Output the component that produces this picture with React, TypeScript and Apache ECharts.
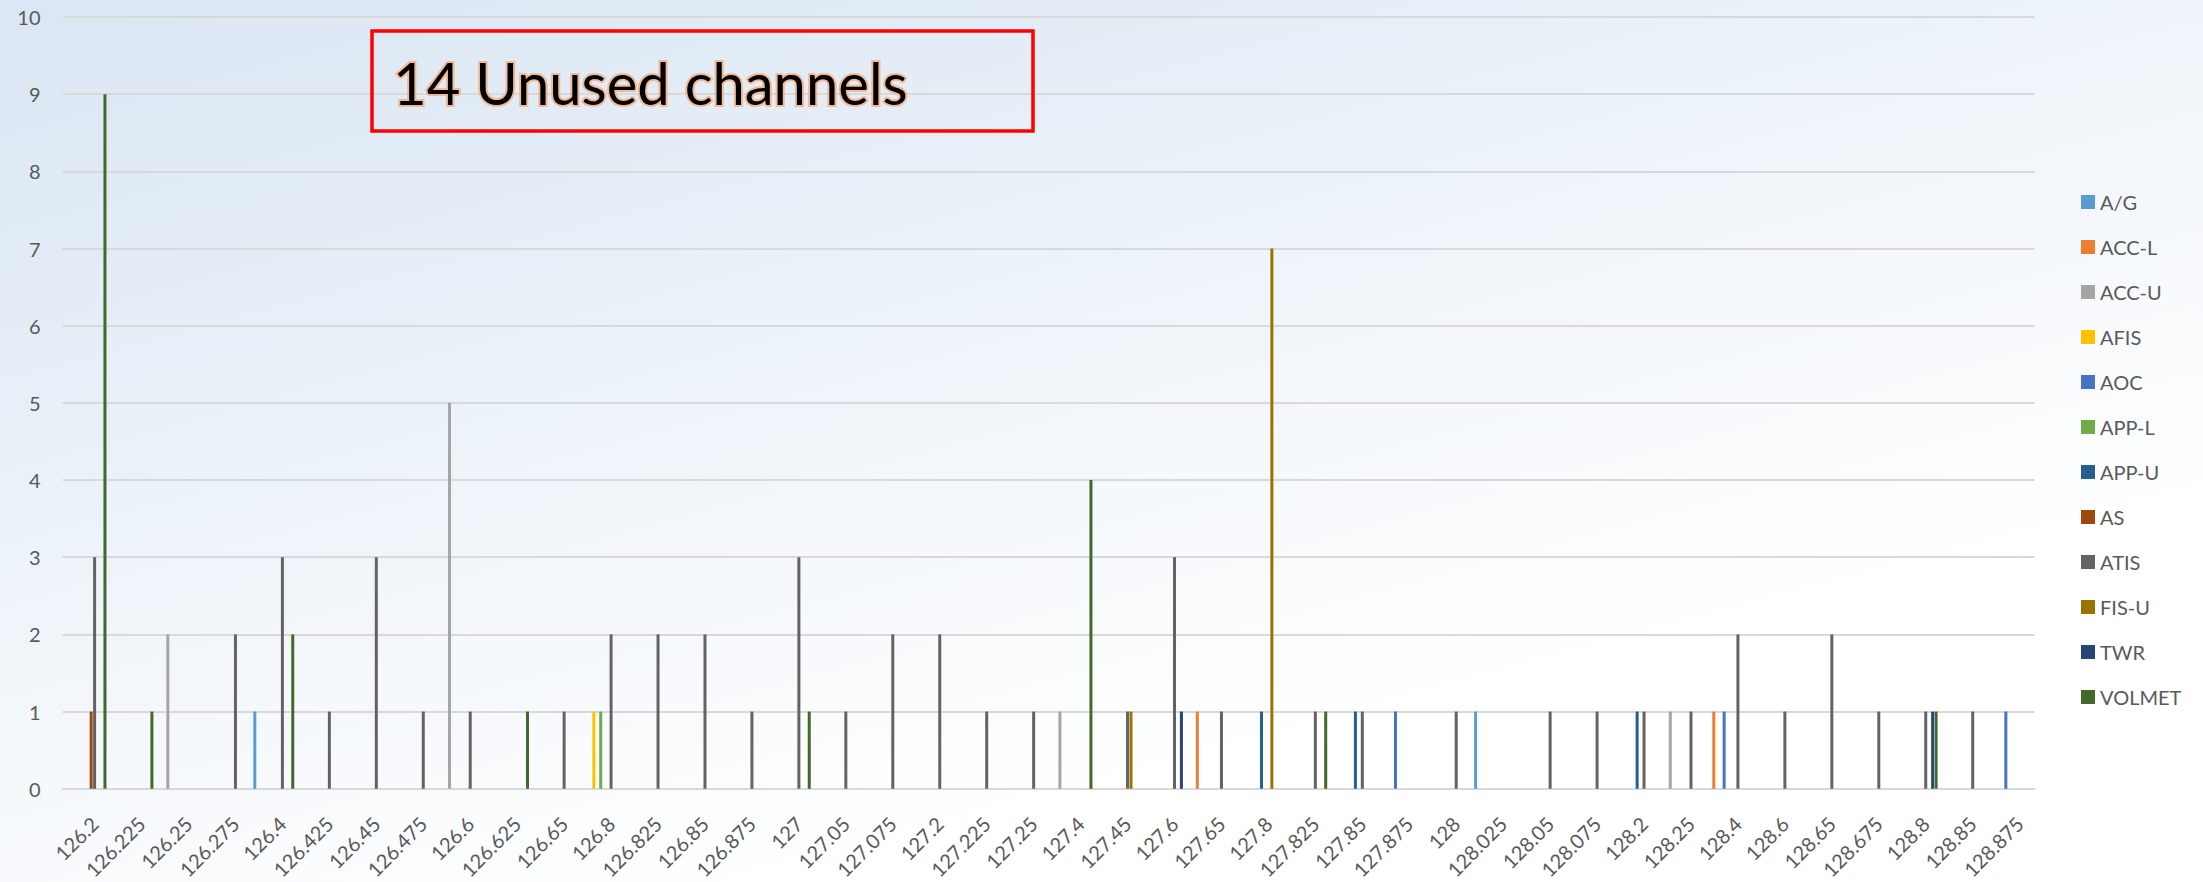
import React, { useEffect, useRef } from 'react';
import * as echarts from 'echarts';

const _ = null;

const categories = [
  '126.2', '126.225', '126.25', '126.275', '126.4', '126.425', '126.45', '126.475', '126.6', '126.625',
  '126.65', '126.8', '126.825', '126.85', '126.875', '127', '127.05', '127.075', '127.2', '127.225',
  '127.25', '127.4', '127.45', '127.6', '127.65', '127.8', '127.825', '127.85', '127.875', '128',
  '128.025', '128.05', '128.075', '128.2', '128.25', '128.4', '128.6', '128.65', '128.675', '128.8',
  '128.85', '128.875',
];

const seriesNames = ['A/G', 'ACC-L', 'ACC-U', 'AFIS', 'AOC', 'APP-L', 'APP-U', 'AS', 'ATIS', 'FIS-U', 'TWR', 'VOLMET'];
const seriesColors = ['#5B9BD5', '#ED7D31', '#A5A5A5', '#FFC000', '#4472C4', '#70AD47', '#255E91', '#9E480E', '#636363', '#997300', '#264478', '#43682B'];

const valAG = [
  _, _, _, _, 1, _, _, _, _, _,
  _, _, _, _, _, _, _, _, _, _,
  _, _, _, _, _, _, _, _, _, _,
  1, _, _, _, _, _, _, _, _, _,
  _, _,
];
const valACCL = [
  _, _, _, _, _, _, _, _, _, _,
  _, _, _, _, _, _, _, _, _, _,
  _, _, _, _, 1, _, _, _, _, _,
  _, _, _, _, _, 1, _, _, _, _,
  _, _,
];
const valACCU = [
  _, _, 2, _, _, _, _, _, 5, _,
  _, _, _, _, _, _, _, _, _, _,
  _, 1, _, _, _, _, _, _, _, _,
  _, _, _, _, 1, _, _, _, _, _,
  _, _,
];
const valAFIS = [
  _, _, _, _, _, _, _, _, _, _,
  _, 1, _, _, _, _, _, _, _, _,
  _, _, _, _, _, _, _, _, _, _,
  _, _, _, _, _, _, _, _, _, _,
  _, _,
];
const valAOC = [
  _, _, _, _, _, _, _, _, _, _,
  _, _, _, _, _, _, _, _, _, _,
  _, _, _, _, _, _, _, _, 1, _,
  _, _, _, _, _, 1, _, _, _, _,
  _, 1,
];
const valAPPL = [
  _, _, _, _, _, _, _, _, _, _,
  _, 1, _, _, _, _, _, _, _, _,
  _, _, _, _, _, _, _, _, _, _,
  _, _, _, _, _, _, _, _, _, _,
  _, _,
];
const valAPPU = [
  _, _, _, _, _, _, _, _, _, _,
  _, _, _, _, _, _, _, _, _, _,
  _, _, _, _, _, 1, _, 1, _, _,
  _, _, _, 1, _, _, _, _, _, _,
  _, _,
];
const valAS = [
  1, _, _, _, _, _, _, _, _, _,
  _, _, _, _, _, _, _, _, _, _,
  _, _, _, _, _, _, _, _, _, _,
  _, _, _, _, _, _, _, _, _, _,
  _, _,
];
const valATIS = [
  3, _, _, 2, 3, 1, 3, 1, 1, _,
  1, 2, 2, 2, 1, 3, 1, 2, 2, 1,
  1, _, 1, 3, 1, _, 1, 1, _, 1,
  _, 1, 1, 1, 1, 2, 1, 2, 1, 1,
  1, _,
];
const valFISU = [
  _, _, _, _, _, _, _, _, _, _,
  _, _, _, _, _, _, _, _, _, _,
  _, _, 1, _, _, 7, _, _, _, _,
  _, _, _, _, _, _, _, _, _, _,
  _, _,
];
const valTWR = [
  _, _, _, _, _, _, _, _, _, _,
  _, _, _, _, _, _, _, _, _, _,
  _, _, _, 1, _, _, _, _, _, _,
  _, _, _, _, _, _, _, _, _, 1,
  _, _,
];
const valVOLMET = [
  9, 1, _, _, 2, _, _, _, _, 1,
  _, _, _, _, _, 1, _, _, _, _,
  _, 4, _, _, _, _, 1, _, _, _,
  _, _, _, _, _, _, _, _, _, 1,
  _, _,
];

const seriesValues = [valAG, valACCL, valACCU, valAFIS, valAOC, valAPPL, valAPPU, valAS, valATIS, valFISU, valTWR, valVOLMET];

const yTicks = { min: 0, max: 10, interval: 1 };
const annotation = '14 Unused channels';

const FONT = 'Lato, "Noto Sans", sans-serif';
const TEXT_COLOR = '#595959';

export default function App() {
  const ref = useRef<HTMLDivElement>(null);

  useEffect(() => {
    if (!ref.current) return;
    const chart = echarts.init(ref.current, undefined, { renderer: 'svg' });
    chart.setOption({
      animation: false,
      backgroundColor: 'transparent',
      textStyle: { fontFamily: FONT },
      grid: { left: 62.5, right: 168.5, top: 17, bottom: 89.5, containLabel: false },
      legend: {
        orient: 'vertical',
        left: 2076,
        top: 187,
        itemWidth: 14,
        itemHeight: 14,
        itemGap: 25,
        icon: 'rect',
        data: seriesNames,
        textStyle: { color: TEXT_COLOR, fontSize: 20, lineHeight: 20, fontFamily: FONT },
      },
      xAxis: {
        type: 'category',
        data: categories,
        axisLine: { show: true, lineStyle: { color: '#d9d9d9', width: 2 } },
        axisTick: { show: false },
        axisLabel: {
          rotate: 45,
          interval: 0,
          color: TEXT_COLOR,
          fontSize: 20,
          fontFamily: FONT,
          margin: 40,
          padding: [0, -12, 0, 0],
        },
        splitLine: { show: false },
      },
      yAxis: {
        type: 'value',
        min: yTicks.min,
        max: yTicks.max,
        interval: yTicks.interval,
        axisLine: { show: false },
        axisTick: { show: false },
        axisLabel: { color: TEXT_COLOR, fontSize: 20, fontFamily: FONT, margin: 22 },
        splitLine: { show: true, lineStyle: { color: '#d9d9d9', width: 2 } },
      },
      series: seriesNames.map((name, i) => ({
        name,
        type: 'bar',
        data: seriesValues[i],
        barWidth: 3,
        barGap: '15%',
        itemStyle: { color: seriesColors[i] },
      })),
      graphic: [
        {
          type: 'rect',
          shape: { x: 372, y: 31, width: 661, height: 100 },
          style: { fill: 'none', stroke: '#ff0000', lineWidth: 3.5 },
          z: 100,
        },
        {
          type: 'text',
          x: 393,
          y: 82,
          z: 101,
          style: {
            text: annotation,
            fontSize: 58,
            fontFamily: FONT,
            fill: '#000000',
            stroke: 'rgba(244,177,131,0.85)',
            lineWidth: 4,
            verticalAlign: 'middle',
            align: 'left',
            shadowBlur: 5,
            shadowColor: 'rgba(244,177,131,0.8)',
          },
        },
      ],
    });
    return () => chart.dispose();
  }, []);

  return (
    <div
      ref={ref}
      style={{
        position: 'fixed',
        left: 0,
        top: 0,
        width: 2203,
        height: 882,
        background: 'linear-gradient(165deg, #dae6f3 0%, #e8f0f8 30%, #f6f9fc 55%, #ffffff 75%)',
      }}
    />
  );
}
